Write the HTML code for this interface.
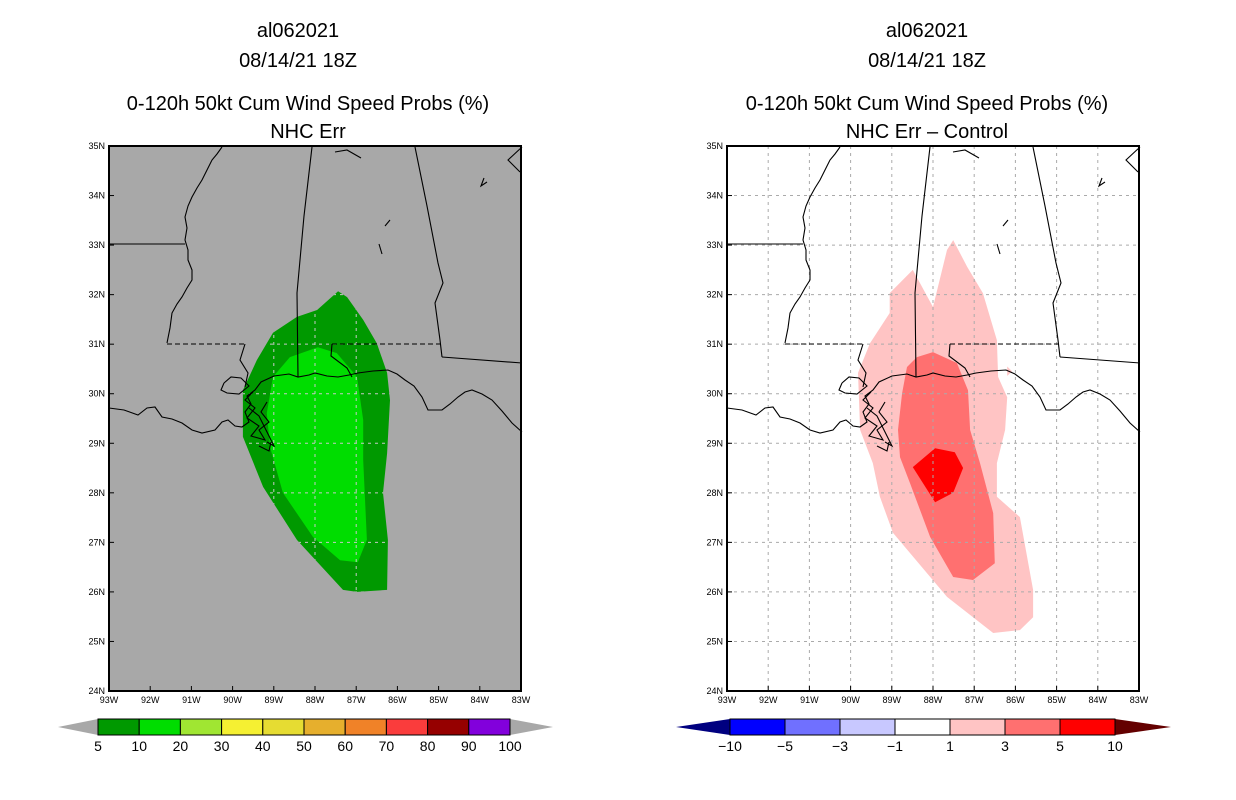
<!DOCTYPE html>
<html><head><meta charset="utf-8"><style>
html,body{margin:0;padding:0;background:#fff;}
svg{display:block;font-family:"Liberation Sans",sans-serif;}
</style></head><body>
<svg id="chart" width="1236" height="800" viewBox="0 0 1236 800" xmlns="http://www.w3.org/2000/svg">
<defs><clipPath id="leftclip"><polygon id="leftclippoly" points=""/></clipPath></defs>
<g font-size="20" text-anchor="middle" fill="#000">
<text x="298" y="37">al062021</text>
<text x="298" y="67">08/14/21 18Z</text>
<text x="308" y="110">0-120h 50kt Cum Wind Speed Probs (%)</text>
<text x="308" y="138">NHC Err</text>
</g>
<g font-size="20" text-anchor="middle" fill="#000">
<text x="927" y="37">al062021</text>
<text x="927" y="67">08/14/21 18Z</text>
<text x="927" y="110">0-120h 50kt Cum Wind Speed Probs (%)</text>
<text x="927" y="138">NHC Err &#8211; Control</text>
</g>
<g id="left"></g>
<g id="right"></g>
<g id="cbl"></g>
<g id="cbr"></g>
</svg>
<script>
// ---- data ----
const lonTicks = [93,92,91,90,89,88,87,86,85,84,83];
const latTicks = [24,25,26,27,28,29,30,31,32,33,34,35];
const probs5 = [[87.44,32.07],[87.22,31.95],[86.83,31.49],[86.50,31.02],[86.25,30.42],[86.18,29.87],[86.25,28.80],[86.35,28.00],[86.23,27.05],[86.25,26.04],[86.98,26.0],[87.32,26.04],[88.44,27.05],[89.26,28.12],[89.75,29.13],[89.75,30.07],[89.41,30.68],[89.02,31.23],[88.44,31.55],[87.95,31.69]];
const probs10 = [[87.93,30.94],[87.47,30.82],[86.98,30.34],[86.83,29.47],[86.83,28.66],[86.74,27.05],[86.96,26.60],[87.39,26.64],[88.05,27.11],[88.78,28.00],[89.09,28.92],[89.17,29.61],[89.02,30.34],[88.61,30.74]];
const diff1 = [[87.51,33.10],[87.17,32.56],[86.79,32.03],[86.45,31.08],[86.42,30.34],[86.20,29.93],[86.25,29.27],[86.45,28.60],[86.45,27.92],[85.89,27.51],[85.57,26.04],[85.57,25.49],[85.89,25.23],[86.54,25.17],[87.66,25.90],[88.97,27.19],[89.29,27.92],[89.46,28.60],[89.77,29.27],[89.82,30.42],[89.53,31.02],[89.05,31.63],[89.05,32.03],[88.49,32.50],[88.00,31.75],[87.66,32.90]];
const diff1b = [[86.20,30.55],[86.08,30.45],[86.20,30.36]];
const diff3 = [[88.00,30.84],[87.42,30.62],[87.15,30.07],[87.10,29.27],[86.86,28.60],[86.54,27.59],[86.50,26.58],[87.03,26.24],[87.51,26.30],[88.07,27.11],[88.56,28.20],[88.80,28.72],[88.85,29.27],[88.75,30.01],[88.63,30.54],[88.39,30.74]];
const diff5 = [[87.95,28.90],[87.47,28.82],[87.27,28.50],[87.51,28.00],[87.95,27.81],[88.49,28.52]];
const cbLeftLevels = ["5","10","20","30","40","50","60","70","80","90","100"];
const cbLeftColors = ["#009900","#00dd00","#a0e632","#f5f032","#e6dc32","#e6af2d","#f08228","#fa3c3c","#960000","#8200dc"];
const cbRightLevels = ["−10","−5","−3","−1","1","3","5","10"];
const cbRightColors = ["#0000ff","#7070ff","#c8c8ff","#ffffff","#ffc4c4","#ff7070","#ff0000"];
const basemap = [
 {d:[[113,1],[108,8],[103,14],[98,24],[93,34],[88,42],[83,51],[79,60],[76,71],[78,82],[76,94],[79,104],[79,114],[83,124],[83,134],[78,142],[73,151],[68,158],[63,167],[61,182],[58,197]]},
 {d:[[58,198],[136,198]],dash:true},
 {d:[[136,198],[131,214],[139,227],[136,241]]},
 {d:[[0,98],[76,98]]},
 {d:[[203,1],[195,70],[188,147],[189,231]]},
 {d:[[223,198],[331,198]],dash:true},
 {d:[[223,198],[222,210],[238,222],[243,231]]},
 {d:[[306,1],[318,60],[329,117],[334,137],[326,157],[331,194],[333,211]]},
 {d:[[333,211],[413,217]]},
 {d:[[0,262],[15,264],[29,269],[38,262],[46,261],[53,271],[63,273],[73,277],[83,284],[93,287],[106,284],[113,276],[119,274],[126,280],[133,281],[140,276],[136,266],[142,258],[138,250],[146,244],[152,236],[165,230],[180,228],[189,231],[200,229],[206,227],[218,230],[229,231],[240,229],[249,227],[264,225],[279,224],[288,228],[296,234],[305,240],[313,251],[319,264],[333,264],[341,258],[349,251],[356,246],[363,244],[373,248],[383,254],[393,265],[403,277],[413,286]]},
 {d:[[144,246],[136,254],[146,262],[138,272],[150,280],[142,290],[156,294],[150,284],[160,276],[152,266],[158,256]]},
 {d:[[140,262],[150,270],[160,290],[165,300],[158,296]]},
 {d:[[115,237],[122,231],[132,232],[140,240],[130,248],[118,247],[112,244],[115,237]]},
 {d:[[413,1],[399,14],[411,26]]},
 {d:[[226,6],[238,4],[252,12]]},
 {d:[[281,74],[276,80]]},
 {d:[[270,98],[273,108]]},
 {d:[[375,32],[372,40],[378,36]]},
 {d:[[150,300],[160,305],[162,296]]}
];
// ---- drawing ----
const NS = "http://www.w3.org/2000/svg";
const W = 412, H = 545;
function mk(tag, attrs, parent){const e=document.createElementNS(NS,tag);for(const k in attrs)e.setAttribute(k,attrs[k]);parent.appendChild(e);return e;}
function panel(g, x0, y0, bg, gridColor, contours, clipPts){
  const sx = lonW => x0 + (93 - lonW) / 10 * W;
  const sy = lat => y0 + (35 - lat) / 11 * H;
  const toPts = arr => arr.map(q=>sx(q[0]).toFixed(1)+','+sy(q[1]).toFixed(1)).join(' ');
  const bgr = mk('rect',{x:x0,y:y0,width:W,height:H,fill:bg},g);
  
  
  contours.forEach(c=>{
    const p = mk('polygon',{points:toPts(c.pts),fill:c.fill},g);
    
    
  });
  const gg = mk('g',{},g);
  
  
  if(clipPts){
    document.getElementById('leftclippoly').setAttribute('points',toPts(clipPts));
    gg.setAttribute('clip-path','url(#leftclip)');
  }
  lonTicks.slice(1,-1).forEach(l=>{
    const ln = mk('line',{x1:sx(l),x2:sx(l),y1:y0,y2:y0+H,stroke:gridColor,'stroke-width':1,'stroke-dasharray':'3,4'},gg);
    
    
  });
  latTicks.slice(1,-1).forEach(l=>{
    const ln = mk('line',{x1:x0,x2:x0+W,y1:sy(l),y2:sy(l),stroke:gridColor,'stroke-width':1,'stroke-dasharray':'3,4'},gg);
    
    
  });
  basemap.forEach(b=>{
    const pl = mk('polyline',{points:b.d.map(q=>(x0+q[0])+','+(y0+q[1])).join(' '),fill:'none',stroke:'#000','stroke-width':1.1},g);
    if(b.dash) pl.setAttribute('stroke-dasharray','5,3');
    
    
  });
  const fr = mk('rect',{x:x0,y:y0,width:W,height:H,fill:'none',stroke:'#000','stroke-width':2},g);
  
  
  lonTicks.forEach(l=>{
    mk('line',{x1:sx(l),x2:sx(l),y1:y0+H,y2:y0+H-5,stroke:'#000'},g);
    const t = mk('text',{x:sx(l),y:y0+H+12,'font-size':9,'text-anchor':'middle'},g);
    t.textContent = l+'W';
    
    
  });
  latTicks.forEach(l=>{
    mk('line',{x1:x0,x2:x0+5,y1:sy(l),y2:sy(l),stroke:'#000'},g);
    const t = mk('text',{x:x0-4,y:sy(l)+3,'font-size':9,'text-anchor':'end'},g);
    t.textContent = l+'N';
    
    
  });
}
panel(document.getElementById('left'),109,146,'#a8a8a8','#c8c8c8',[
  {pts:probs5,fill:'#009900',name:'prob-5-contour'},
  {pts:probs10,fill:'#00dd00',name:'prob-10-contour'}], probs5);
panel(document.getElementById('right'),727,146,'#ffffff','#aaaaaa',[
  {pts:diff1,fill:'#ffc4c4',name:'diff-1-contour'},
  {pts:diff1b,fill:'#ffc4c4',name:'diff-1-blob'},
  {pts:diff3,fill:'#ff7070',name:'diff-3-contour'},
  {pts:diff5,fill:'#ff0000',name:'diff-5-contour'}], null);
function colorbar(g, bx0, bx1, tipL, tipR, colors, labels, tipLc, tipRc){
  const y0=719, y1=735, ym=727, n=colors.length, sw=(bx1-bx0)/n;
  const tl = mk('polygon',{points:`${tipL},${ym} ${bx0},${y0} ${bx0},${y1}`,fill:tipLc},g);
  
  
  const tr = mk('polygon',{points:`${tipR},${ym} ${bx1},${y0} ${bx1},${y1}`,fill:tipRc},g);
  
  
  colors.forEach((c,i)=>{
    const r = mk('rect',{x:bx0+i*sw,y:y0,width:sw,height:y1-y0,fill:c,stroke:'#000','stroke-width':1},g);
    
    
  });
  labels.forEach((l,i)=>{
    const t = mk('text',{x:bx0+i*sw,y:751,'font-size':14,'text-anchor':'middle'},g);
    t.textContent = l;
    
    
  });
}
colorbar(document.getElementById('cbl'),98,510,58,553,cbLeftColors,cbLeftLevels,'#a8a8a8','#a8a8a8');
colorbar(document.getElementById('cbr'),730,1115,676,1171,cbRightColors,cbRightLevels,'#000080','#640000');
</script>
</body></html>
